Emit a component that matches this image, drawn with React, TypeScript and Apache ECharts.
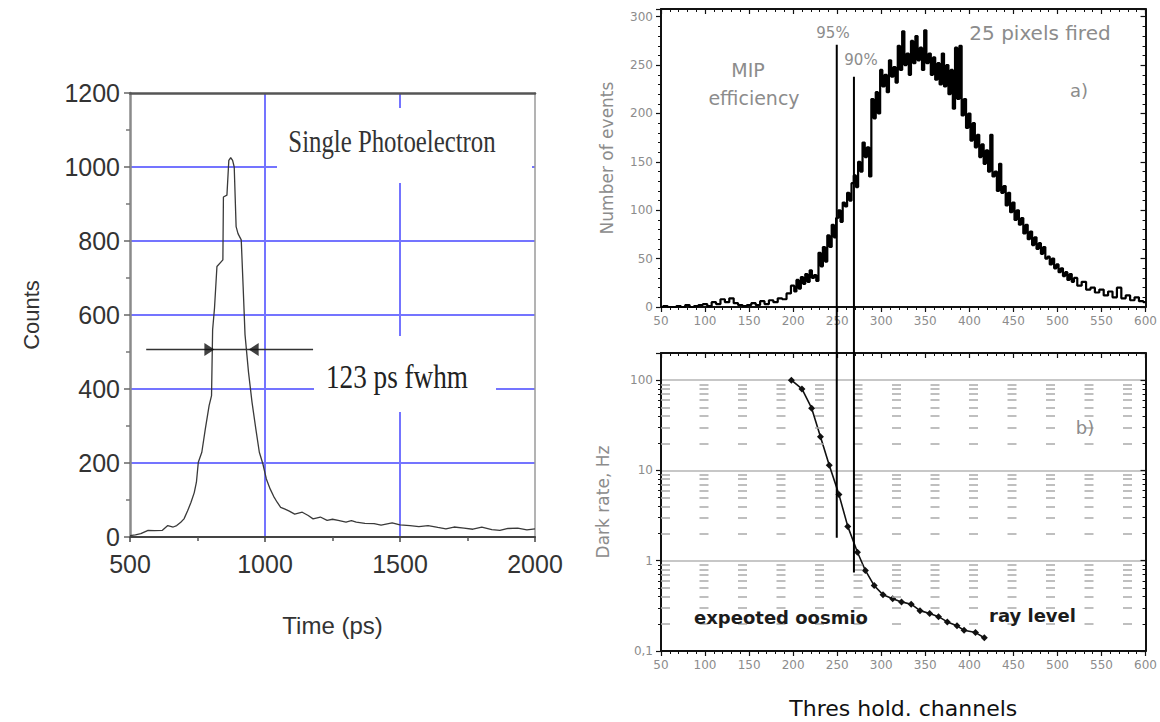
import React, { useEffect, useRef } from 'react';
import * as echarts from 'echarts';

// ---------- Left panel: single photoelectron timing ----------
const timePs = [500, 520, 540, 567, 590, 620, 640, 660, 673, 688, 700, 713, 726, 738, 746, 753, 766, 779, 793, 802, 806, 813, 822, 844, 846, 859, 866, 873, 880, 886, 893, 900, 912, 919, 926, 939, 952, 966, 979, 992, 1005, 1019, 1032, 1045, 1058, 1072, 1090, 1110, 1138, 1160, 1178, 1205, 1230, 1250, 1271, 1300, 1320, 1338, 1370, 1404, 1430, 1471, 1500, 1537, 1570, 1604, 1640, 1670, 1700, 1737, 1770, 1803, 1840, 1870, 1900, 1936, 1970, 2000];
const countsSpe = [4, 6, 9, 18, 17, 18, 31, 27, 31, 40, 49, 70, 94, 120, 148, 202, 229, 292, 355, 382, 560, 619, 731, 749, 919, 924, 1018, 1025, 1018, 1000, 839, 820, 803, 677, 547, 445, 364, 292, 229, 198, 157, 130, 110, 94, 80, 76, 70, 62, 67, 58, 49, 54, 45, 48, 45, 40, 44, 40, 37, 36, 32, 38, 33, 31, 28, 31, 26, 22, 27, 24, 21, 27, 20, 18, 23, 24, 19, 22];
const fwhmArrowTimes = [560, 1178];
const fwhmLevel = 507;
const arrowHeadTimes = [794, 958];
const timeTicks = [500, 1000, 1500, 2000];
const countTicks = [0, 200, 400, 600, 800, 1000, 1200];

// ---------- Right top panel: MIP amplitude spectrum ----------
const histChannels = [
  50, 55, 60, 65, 70, 75, 80, 85, 90, 95, 100, 105, 110, 115, 120, 125, 130, 135, 140, 145, 150, 155, 160, 165, 170, 175, 180, 185, 190, 195,
  200, 202.5, 205, 207.5, 210, 212.5, 215, 217.5, 220, 222.5, 225, 227.5, 230, 232.5, 235, 237.5, 240, 242.5, 245, 247.5,
  250, 252.5, 255, 257.5, 260, 262.5, 265, 267.5, 270, 272.5, 275, 277.5, 280, 282.5, 285, 287.5, 290, 292.5, 295, 297.5,
  300, 302.5, 305, 307.5, 310, 312.5, 315, 317.5, 320, 322.5, 325, 327.5, 330, 332.5, 335, 337.5, 340, 342.5, 345, 347.5,
  350, 352.5, 355, 357.5, 360, 362.5, 365, 367.5, 370, 372.5, 375, 377.5, 380, 382.5, 385, 387.5, 390, 392.5, 395, 397.5,
  400, 402.5, 405, 407.5, 410, 412.5, 415, 417.5, 420, 422.5, 425, 427.5, 430, 432.5, 435, 437.5, 440, 442.5, 445, 447.5,
  450, 452.5, 455, 457.5, 460, 462.5, 465, 467.5, 470, 472.5, 475, 477.5, 480, 482.5, 485, 487.5, 490, 492.5, 495, 497.5,
  500, 502.5, 505, 507.5, 510, 512.5, 515, 517.5, 520,
  525, 530, 535, 540, 545, 550, 555, 560, 565, 570, 575, 580, 585, 590, 595, 600,
];
const histCounts = [
  0, 1, 0, 0, 1, 0, 2, 0, 1, 2, 3, 1, 5, 3, 8, 5, 9, 4, 2, 1, 2, 4, 2, 6, 3, 7, 5, 9, 8, 14,
  22, 16, 28, 19, 31, 24, 34, 26, 38, 30, 33, 27, 56, 42, 62, 47, 74, 62, 85, 72,
  92, 100, 88, 108, 104, 118, 110, 128, 136, 124, 150, 140, 170, 155, 165, 135, 215, 195, 222, 200,
  245, 228, 240, 222, 255, 238, 248, 232, 270, 245, 285, 250, 262, 240, 275, 252, 280, 255, 268, 245,
  286, 252, 262, 240, 258, 235, 252, 230, 262, 228, 250, 220, 245, 205, 268, 215, 270, 198, 215, 185,
  200, 172, 190, 165, 178, 155, 168, 148, 162, 140, 178, 135, 140, 120, 148, 118, 125, 105, 118, 98,
  108, 90, 100, 85, 92, 76, 85, 70, 78, 64, 72, 60, 66, 55, 62, 50, 52, 44, 50, 40,
  44, 36, 40, 32, 36, 28, 34, 26, 30,
  22, 26, 18, 20, 15, 18, 12, 16, 10, 20, 9, 12, 7, 10, 6, 5,
];
const channelTicks = [50, 100, 150, 200, 250, 300, 350, 400, 450, 500, 550, 600];

// ---------- Right bottom panel: dark rate ----------
const rateChannels = [198, 210, 221, 231, 241, 252, 262, 273, 282, 292, 302, 313, 323, 334, 344, 355, 365, 375, 386, 394, 407, 417];
const rateHz = [100, 80, 49, 23.6, 11.4, 5.4, 2.4, 1.24, 0.78, 0.53, 0.42, 0.38, 0.35, 0.33, 0.28, 0.26, 0.24, 0.21, 0.19, 0.17, 0.16, 0.14];
const logTickValues = [0.1, 1, 10, 100];
const logTickLabels = ['0,1', '1', '10', '100'];
const minorGridHz = [0.2, 0.3, 0.4, 0.5, 0.6, 0.7, 0.8, 0.9, 2, 3, 4, 5, 6, 7, 8, 9, 20, 30, 40, 50, 60, 70, 80, 90];

// efficiency thresholds
const efficiencyLabels = ['95%', '90%'];
const efficiencyChannels = [249.5, 269];
const efficiencyTopCounts = [271, 238];
const efficiencyBottomHz = [1.8, 0.74];

const ARIAL = '"Liberation Sans", Arial, sans-serif';
const SANS = '"DejaVu Sans", Verdana, sans-serif';
const SERIF = '"Liberation Serif", "Times New Roman", serif';
const BLUE = '#7474ff';
const GREY_TXT = '#8c8c8c';

export default function App() {
  const ref = useRef<HTMLDivElement>(null);

  useEffect(() => {
    document.body.style.margin = '0';
    if (!ref.current) return;
    const chart = echarts.init(ref.current, undefined, { renderer: 'svg' });

    const rightX = (gridIndex: number, top: boolean, labels: boolean, name?: string) => ({
      type: 'value',
      gridIndex,
      position: top ? 'top' : 'bottom',
      min: channelTicks[0],
      max: channelTicks[channelTicks.length - 1],
      interval: 50,
      axisLine: { onZero: false, lineStyle: { color: '#111', width: 2 } },
      axisTick: { show: true, inside: top, length: 5, lineStyle: { color: '#111', width: 1.2 } },
      minorTick: { show: true, splitNumber: 5, length: 3, lineStyle: { color: '#111', width: 1 } },
      axisLabel: { show: labels, fontFamily: SANS, fontSize: 12, color: GREY_TXT, margin: 8 },
      splitLine: { show: false },
      name: name || '',
      nameLocation: 'middle',
      nameGap: 46,
      nameTextStyle: { fontFamily: SANS, fontSize: 22, color: '#111' },
    });

    const plain = (v: number) => String(v);

    const option: any = {
      animation: false,
      backgroundColor: '#ffffff',
      grid: [
        { left: 130, top: 93, width: 405, height: 444 },
        { left: 661, top: 9, width: 489, height: 298 },
        { left: 661, top: 353, width: 489, height: 298 },
      ],
      xAxis: [
        {
          type: 'value', gridIndex: 0, position: 'bottom',
          min: timeTicks[0], max: timeTicks[timeTicks.length - 1], interval: 500,
          axisLine: { onZero: false, lineStyle: { color: '#444', width: 2 } },
          axisTick: { show: true, length: 5, lineStyle: { color: '#444', width: 1.5 } },
          minorTick: { show: true, splitNumber: 2, length: 4, lineStyle: { color: '#555', width: 1.5 } },
          axisLabel: { fontFamily: ARIAL, fontSize: 25, color: '#333', margin: 14, formatter: plain },
          splitLine: { show: true, showMinLine: false, showMaxLine: false, lineStyle: { color: BLUE, width: 2 } },
          name: 'Time (ps)', nameLocation: 'middle', nameGap: 76,
          nameTextStyle: { fontFamily: ARIAL, fontSize: 24, color: '#333' },
        },
        {
          type: 'value', gridIndex: 0, position: 'top',
          min: timeTicks[0], max: timeTicks[timeTicks.length - 1], interval: 500,
          axisLine: { onZero: false, lineStyle: { color: '#555', width: 2.5 } },
          axisTick: { show: false }, axisLabel: { show: false }, splitLine: { show: false },
        },
        rightX(1, false, true),
        rightX(1, true, false),
        rightX(2, false, true, 'Thres hold. channels'),
        rightX(2, true, false),
      ],
      yAxis: [
        {
          type: 'value', gridIndex: 0, position: 'left',
          min: countTicks[0], max: countTicks[countTicks.length - 1], interval: 200,
          axisLine: { onZero: false, lineStyle: { color: '#8a8a8a', width: 2.5 } },
          axisTick: { show: true, length: 6, lineStyle: { color: '#666', width: 1.5 } },
          minorTick: { show: true, splitNumber: 2, length: 4, lineStyle: { color: '#777', width: 1.5 } },
          axisLabel: { fontFamily: ARIAL, fontSize: 25, color: '#333', margin: 10, formatter: plain },
          splitLine: { show: true, showMinLine: false, showMaxLine: false, lineStyle: { color: BLUE, width: 2 } },
          name: 'Counts', nameLocation: 'middle', nameGap: 88,
          nameTextStyle: { fontFamily: ARIAL, fontSize: 22, color: '#333' },
        },
        {
          type: 'value', gridIndex: 0, position: 'right',
          min: countTicks[0], max: countTicks[countTicks.length - 1], interval: 200,
          axisLine: { show: true, onZero: false, lineStyle: { color: '#9a9a9a', width: 1.5 } },
          axisTick: { show: false }, axisLabel: { show: false }, splitLine: { show: false },
        },
        {
          type: 'value', gridIndex: 1, position: 'left',
          min: 0, max: 308, interval: 50,
          axisLine: { show: true, onZero: false, lineStyle: { color: '#111', width: 2 } },
          axisTick: { show: true, length: 5, lineStyle: { color: '#111', width: 1.2 } },
          minorTick: { show: true, splitNumber: 5, length: 3, lineStyle: { color: '#111', width: 1 } },
          axisLabel: { fontFamily: SANS, fontSize: 12, color: GREY_TXT, margin: 8, showMaxLabel: false },
          splitLine: { show: false },
          name: 'Number of events', nameLocation: 'middle', nameGap: 46,
          nameTextStyle: { fontFamily: SANS, fontSize: 17, color: GREY_TXT },
        },
        {
          type: 'value', gridIndex: 1, position: 'right',
          min: 0, max: 308, interval: 50,
          axisLine: { show: true, onZero: false, lineStyle: { color: '#111', width: 2 } },
          axisTick: { show: true, inside: true, length: 5, lineStyle: { color: '#111', width: 1.2 } },
          minorTick: { show: true, splitNumber: 5, length: 3, lineStyle: { color: '#111', width: 1 } },
          axisLabel: { show: false }, splitLine: { show: false },
        },
        {
          type: 'log', logBase: 10, gridIndex: 2, position: 'left',
          min: logTickValues[0], max: 200,
          axisLine: { show: true, onZero: false, lineStyle: { color: '#111', width: 2 } },
          axisTick: { show: true, length: 5, lineStyle: { color: '#111', width: 1.2 } },
          minorTick: { show: true, splitNumber: 9, length: 3, lineStyle: { color: '#111', width: 1 } },
          axisLabel: {
            fontFamily: SANS, fontSize: 12, color: GREY_TXT, margin: 8, showMaxLabel: false,
            formatter: (v: number) => {
              const i = logTickValues.findIndex((t) => Math.abs(t - v) < 1e-9 * Math.max(1, v));
              return i >= 0 ? logTickLabels[i] : '';
            },
          },
          splitLine: { show: true, showMinLine: false, showMaxLine: false, lineStyle: { color: '#b4b4b4', width: 1.6 } },
          name: 'Dark rate, Hz', nameLocation: 'middle', nameGap: 50,
          nameTextStyle: { fontFamily: SANS, fontSize: 17, color: GREY_TXT },
        },
        {
          type: 'log', logBase: 10, gridIndex: 2, position: 'right',
          min: logTickValues[0], max: 200,
          axisLine: { show: true, onZero: false, lineStyle: { color: '#111', width: 2 } },
          axisTick: { show: true, inside: true, length: 5, lineStyle: { color: '#111', width: 1.2 } },
          minorTick: { show: true, splitNumber: 9, length: 3, lineStyle: { color: '#111', width: 1 } },
          axisLabel: { show: false }, splitLine: { show: false },
        },
      ],
      series: [
        {
          type: 'line', xAxisIndex: 0, yAxisIndex: 0, z: 3,
          data: timePs.map((t, i) => [t, countsSpe[i]]),
          symbol: 'none', lineStyle: { color: '#3a3a3a', width: 1.3 },
        },
        {
          type: 'line', xAxisIndex: 0, yAxisIndex: 0, z: 3,
          data: fwhmArrowTimes.map((t) => [t, fwhmLevel]),
          symbol: 'none', lineStyle: { color: '#333', width: 1.5 },
        },
        {
          type: 'scatter', xAxisIndex: 0, yAxisIndex: 0, z: 4,
          symbol: 'triangle', symbolSize: [13, 10],
          itemStyle: { color: '#111' },
          data: [
            { value: [arrowHeadTimes[0], fwhmLevel], symbolRotate: -90 },
            { value: [arrowHeadTimes[1], fwhmLevel], symbolRotate: 90 },
          ],
        },
        {
          type: 'line', xAxisIndex: 2, yAxisIndex: 2, z: 3, step: 'middle',
          data: histChannels.map((c, i) => [c, histCounts[i]]),
          symbol: 'none', lineStyle: { color: '#000', width: 2.2 },
        },
        {
          type: 'line', xAxisIndex: 4, yAxisIndex: 4, z: 3,
          data: rateChannels.map((c, i) => [c, rateHz[i]]),
          symbol: 'diamond', symbolSize: 7,
          itemStyle: { color: '#111' }, lineStyle: { color: '#111', width: 1.6 },
          markLine: {
            silent: true, symbol: ['none', 'none'], label: { show: false },
            lineStyle: { color: '#aaaaaa', width: 1.6, type: [9, 29.5] },
            emphasis: { disabled: true },
            data: minorGridHz.map((v) => ({ yAxis: v })),
          },
        },
      ],
    };

    chart.setOption(option);

    const lines: any[] = efficiencyChannels.map((ch, i) => {
      const p1 = chart.convertToPixel({ xAxisIndex: 2, yAxisIndex: 2 } as any, [ch, efficiencyTopCounts[i]]) as number[];
      const p2 = chart.convertToPixel({ xAxisIndex: 4, yAxisIndex: 4 } as any, [ch, efficiencyBottomHz[i]]) as number[];
      return {
        type: 'line', z: 10,
        shape: { x1: p1[0], y1: p1[1], x2: p2[0], y2: p2[1] },
        style: { stroke: '#000', lineWidth: 2 },
      };
    });

    const txt = (text: string, x: number, y: number, size: number, opts: any = {}) => ({
      type: 'text', x, y, z: 12, scaleX: opts.scaleX || 1,
      style: {
        text, fill: opts.fill || GREY_TXT, fontSize: size,
        fontFamily: opts.family || SANS, fontWeight: opts.weight || 'normal',
        align: opts.align || 'center', verticalAlign: 'middle',
      },
    });

    chart.setOption({
      graphic: [
        { type: 'rect', z: 1, shape: { x: 277, y: 108, width: 255, height: 75 }, style: { fill: '#fff' } },
        { type: 'rect', z: 1, shape: { x: 314, y: 336, width: 182, height: 76 }, style: { fill: '#fff' } },
        txt('Single Photoelectron', 392, 142, 31, { family: SERIF, fill: '#333', scaleX: 0.8 }),
        txt('123 ps fwhm', 397, 377, 34, { family: SERIF, fill: '#222', scaleX: 0.8 }),
        ...lines,
        txt('25 pixels fired', 1040, 33, 20),
        txt('MIP', 748, 70, 19),
        txt('efficiency', 754, 98, 19),
        txt(efficiencyLabels[0], 833, 33, 15),
        txt(efficiencyLabels[1], 861, 60, 15),
        txt('a)', 1079, 90, 18),
        txt('b)', 1085, 427, 18),
        txt('expeoted oosmio', 694, 617, 18, { align: 'left', weight: 'bold', fill: '#1c1c1c' }),
        txt('ray level', 989, 615, 18, { align: 'left', weight: 'bold', fill: '#1c1c1c' }),
      ],
    });

    return () => chart.dispose();
  }, []);

  return <div ref={ref} style={{ width: 1160, height: 722 }} />;
}
